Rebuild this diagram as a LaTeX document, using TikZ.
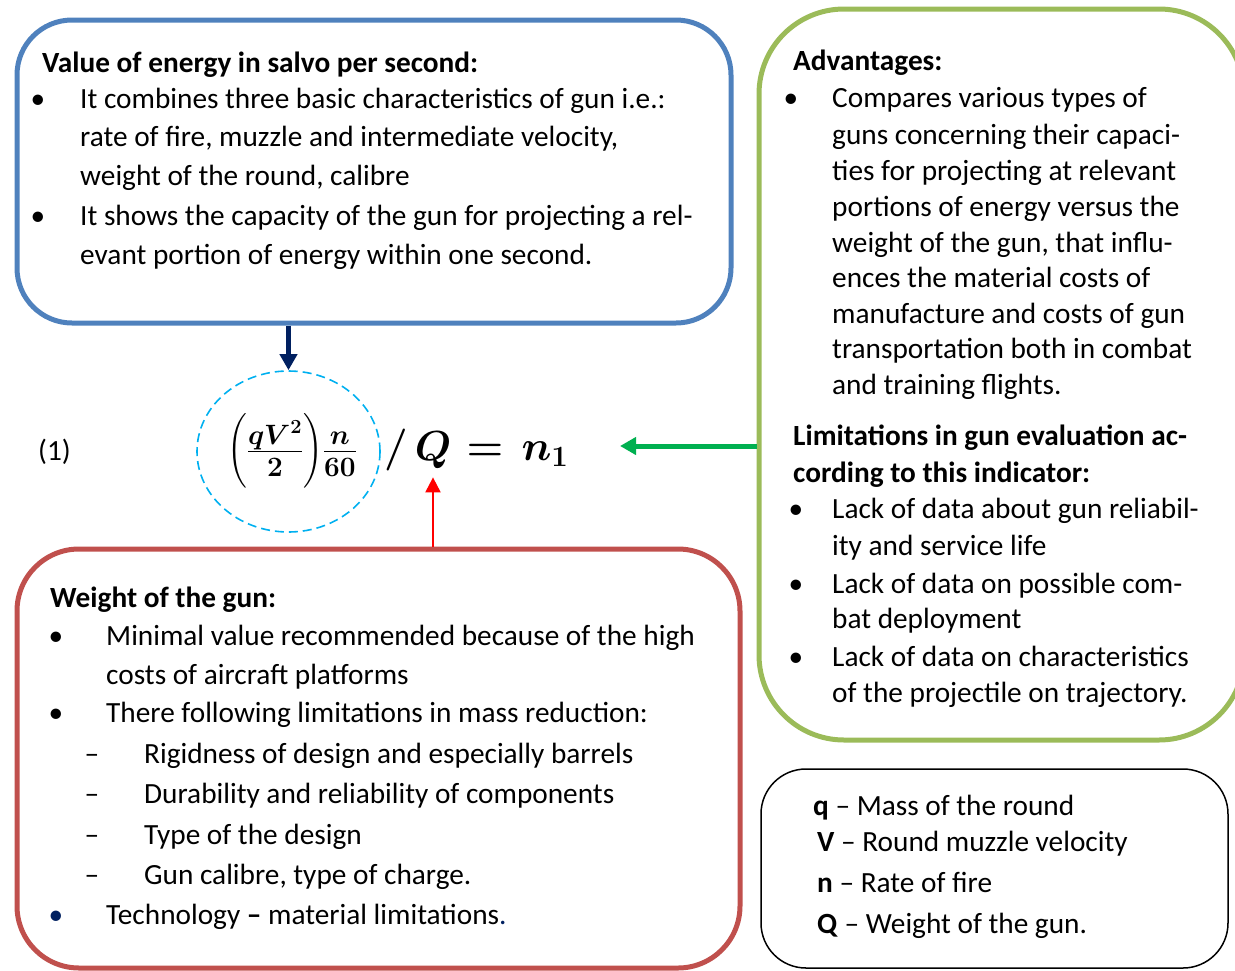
\RequirePackage{fix-cm}
\documentclass[tikz,border=0pt]{standalone}
\usepackage{fontspec}
\setmainfont{Carlito}
\usepackage{amsmath}
\usetikzlibrary{arrows.meta,shapes.geometric}
\definecolor{boxblue}{RGB}{79,129,189}
\definecolor{boxgreen}{RGB}{155,187,89}
\definecolor{boxred}{RGB}{192,80,77}
\definecolor{navy}{RGB}{0,32,96}
\definecolor{arrgreen}{RGB}{0,176,80}
\definecolor{ringblue}{RGB}{0,176,240}
\newcommand{\txtsize}{\fontsize{29.3}{35}\selectfont}
\newcommand{\eqsize}{\fontsize{42}{48}\selectfont\boldmath}

\begin{document}
\begin{tikzpicture}[x=1pt,y=-1pt,font=\txtsize,
  ln/.style={anchor=base west,inner sep=0pt},
  dot/.style={anchor=base,inner sep=0pt},
  sym/.style={anchor=base,inner sep=0pt,font=\eqsize},
  panel/.style={draw,line width=5pt,rounded corners=#1,inner sep=0pt}]
\useasboundingbox (0,0) rectangle (1235,970);
\node[panel=55pt,draw=boxblue,minimum width=714pt,minimum height=303pt] (energy) at (374,171.5) {};
\node[panel=85pt,draw=boxgreen,minimum width=485pt,minimum height=731pt] (pros) at (1001.5,374.5) {};
\node[panel=62pt,draw=boxred,minimum width=723pt,minimum height=419pt] (weight) at (378.5,758.5) {};
\node[draw,line width=1.5pt,rounded corners=45pt,minimum width=467pt,minimum height=199pt,inner sep=0pt] (legend) at (994.5,868.5) {};
\node[ellipse,draw=ringblue,line width=1.6pt,dash pattern=on 9pt off 5pt,minimum width=183pt,minimum height=161pt,inner sep=0pt] (circ) at (288.5,451.5) {};
\node[ln] (eqno) at (38,460) {(1)};
\node[inner sep=0pt,font=\fontsize{40}{46}\selectfont\boldmath] (lhs) at (292,451) {$\Bigl(\frac{qV^2}{2}\Bigr)\frac{n}{60}$};
\node[sym] (slash) at (396,460) {$/$};
\node[sym] (Q) at (433,460) {$Q$};
\node[sym] (eqs) at (485,460) {$=$};
\node[sym] (n1) at (545,460) {$n_1$};
\coordinate (gtip) at (620,446);\coordinate (qfoot) at ([yshift=-9pt]Q.south);
\draw[navy,line width=5pt,-{Triangle[length=16pt,width=17pt]}] (energy.south -| circ.north) -- (circ.north);
\draw[arrgreen,line width=5pt,-{Triangle[length=16pt,width=17pt]}] (pros.west |- gtip) -- (gtip);
\draw[red,line width=2pt,-{Triangle[length=15pt,width=15pt]}] (weight.north -| qfoot) -- (qfoot);
\node[ln] (e0) at (42,72) {\bfseries Value of energy in salvo per second:};
\foreach \n/\y/\t in {1/108/{It combines three basic characteristics of gun i.e.:},2/146/{rate of fire, muzzle and intermediate velocity,},3/185/{weight of the round, calibre},4/225/{It shows the capacity of the gun for projecting a rel-},5/264/{evant portion of energy within one second.}}
  \node[ln] (e\n) at (80,\y) {\t};
\foreach \y in {108,225} \node[dot] (eb\y) at (38,\y) {\textbullet};
\node[ln] (p0) at (793,70) {\bfseries Advantages:};
\foreach \n/\y/\t in {1/107/{Compares various types of},2/144/{guns concerning their capaci-},3/180/{ties for projecting at relevant},4/216/{portions of energy versus the},5/252/{weight of the gun, that influ-},6/287/{ences the material costs of},7/323/{manufacture and costs of gun},8/358/{transportation both in combat},9/394/{and training flights.}}
  \node[ln] (p\n) at (832,\y) {\t};
\node[dot] (pb) at (791,107) {\textbullet};
\node[ln] (l0) at (793,445) {\bfseries Limitations in gun evaluation ac-};
\node[ln] (l00) at (793,482) {\bfseries cording to this indicator:};
\foreach \n/\y/\t in {1/518/{Lack of data about gun reliabil-},2/555/{ity and service life},3/593/{Lack of data on possible com-},4/628/{bat deployment},5/666/{Lack of data on characteristics},6/702/{of the projectile on trajectory.}}
  \node[ln] (l\n) at (832,\y) {\t};
\foreach \y in {518,593,666} \node[dot] (lb\y) at (796,\y) {\textbullet};
\node[ln] (w0) at (50,607) {\bfseries Weight of the gun:};
\foreach \n/\y/\t in {1/645/{Minimal value recommended because of the high},2/684/{costs of aircraft platforms},3/722/{There following limitations in mass reduction:}}
  \node[ln] (w\n) at (106,\y) {\t};
\foreach \n/\y/\t in {4/763/{Rigidness of design and especially barrels},5/803/{Durability and reliability of components},6/844/{Type of the design},7/884/{Gun calibre, type of charge.}}
  {\node[ln] (w\n) at (144,\y) {\t};\node[dot] (wd\n) at (92,\y) {--};}
\node[ln] (w8) at (106,924) {Technology \textbf{--} material limitations\textcolor{navy}{.}};
\foreach \y in {645,722} \node[dot] (wb\y) at (56,\y) {\textbullet};
\node[dot,text=navy] (wb924) at (56,924) {\textbullet};
\node[ln] (q1) at (813,815) {\textbf{q} -- Mass of the round};
\node[ln] (q2) at (817,851) {\textbf{V} -- Round muzzle velocity};
\node[ln] (q3) at (817,892) {\textbf{n} -- Rate of fire};
\node[ln] (q4) at (817,933) {\textbf{Q} -- Weight of the gun.};
\end{tikzpicture}
\end{document}
